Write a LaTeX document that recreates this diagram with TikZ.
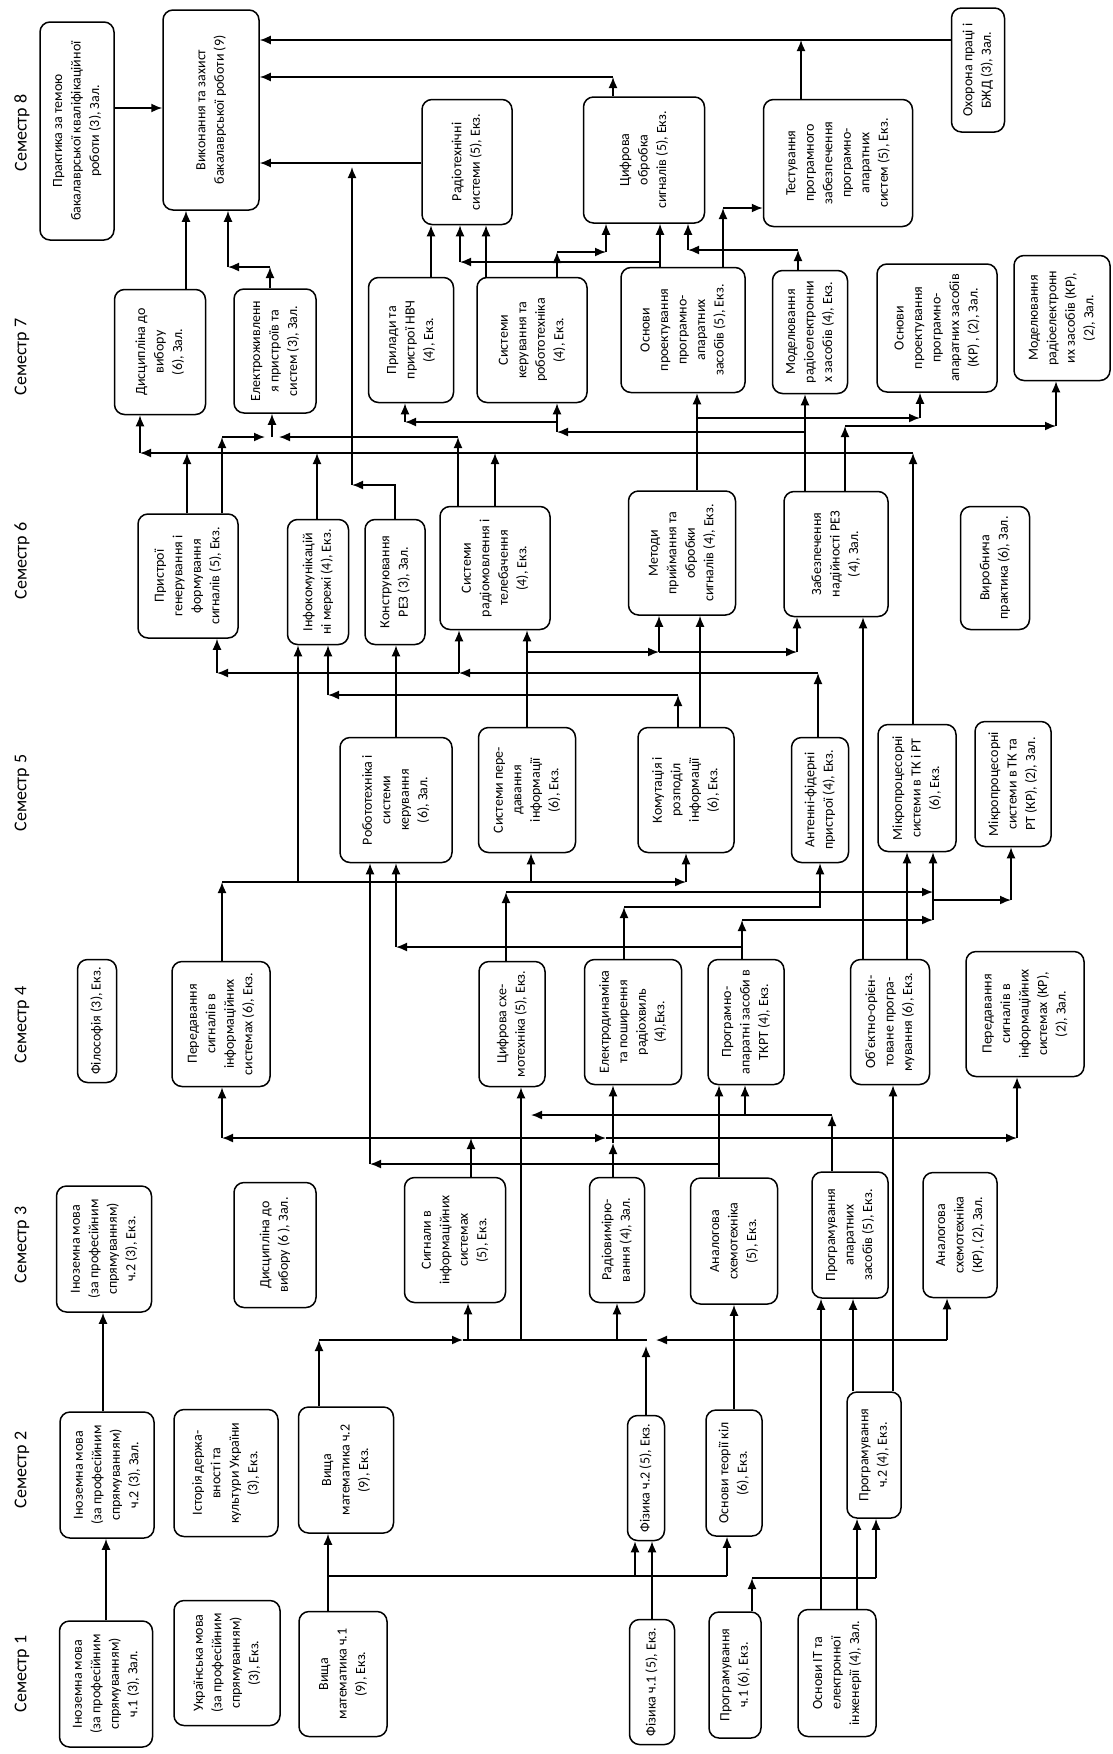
\documentclass[tikz,border=0pt]{standalone}
\usepackage{fontspec}
\setmainfont{Carlito}
\usetikzlibrary{arrows.meta}
\newcommand{\vtext}[1]{\rotatebox{90}{\begin{tabular}{@{}c@{}}#1\end{tabular}}}

\begin{document}
\begin{tikzpicture}[x=1pt,y=-1pt]

\tikzset{course/.style = {shape=rectangle,draw,rounded corners=10pt,line width=1.5pt,inner sep=0pt,font=\fontsize{14}{18.5}\selectfont}}
\tikzset{sem/.style = {rotate=90,font=\fontsize{18}{20}\selectfont}}
\tikzset{link/.style = {->,> = {Latex[length=11pt,width=9pt]},line width=1.6pt}}

\useasboundingbox[fill=white] (0,0) rectangle (1112,1754);

%semesters
\node[sem] (s8) at (22,133) {Семестр 8};
\node[sem] (s7) at (22,357) {Семестр 7};
\node[sem] (s6) at (22,561) {Семестр 6};
\node[sem] (s5) at (22,793) {Семестр 5};
\node[sem] (s4) at (22,1025) {Семестр 4};
\node[sem] (s3) at (22,1245) {Семестр 3};
\node[sem] (s2) at (22,1470) {Семестр 2};
\node[sem] (s1) at (22,1674) {Семестр 1};

%semester 8
\node[course,minimum width=74pt,minimum height=218pt] (prakt) at (77,131) {\vtext{Практика за темою\\бакалаврської кваліфікаційної\\роботи (3), Зал.}};
\node[course,minimum width=96pt,minimum height=200pt] (vykon) at (211,110) {\vtext{Виконання та захист\\бакалаврської роботи (9)}};
\node[course,minimum width=90pt,minimum height=125pt] (radsys) at (467,162) {\vtext{Радіотехнічні\\системи (5), Екз.}};
\node[course,minimum width=121pt,minimum height=126pt] (tsos) at (644,160) {\vtext{Цифрова\\обробка\\сигналів (5), Екз.}};
\node[course,minimum width=149pt,minimum height=127pt] (test) at (838,163) {\vtext{Тестування\\програмного\\забезпечення\\програмно-\\апаратних\\систем (5), Екз.}};
\node[course,minimum width=53pt,minimum height=124pt] (okhor) at (978,70) {\vtext{Охорона праці і\\БЖД (3), Зал.}};

%semester 7
\node[course,minimum width=91pt,minimum height=125pt] (dysc7) at (160,352) {\vtext{Дисципліна до\\вибору\\(6), Зал.}};
\node[course,minimum width=82pt,minimum height=124pt] (elektr) at (275,351) {\vtext{Електроживленн\\я пристроїв та\\систем (3), Зал.}};
\node[course,minimum width=85pt,minimum height=125pt] (prylady) at (411,340) {\vtext{Прилади та\\пристрої НВЧ\\(4), Екз.}};
\node[course,minimum width=110pt,minimum height=125pt] (syskeruv) at (532,340) {\vtext{Системи\\керування та\\робототехніка\\(4), Екз.}};
\node[course,minimum width=124pt,minimum height=125pt] (osnproekt) at (683,330) {\vtext{Основи\\проектування\\програмно-\\апаратних\\засобів (5), Екз.}};
\node[course,minimum width=75pt,minimum height=123pt] (modelyuv) at (810,332) {\vtext{Моделювання\\радіоелектронни\\х засобів (4), Екз.}};
\node[course,minimum width=120pt,minimum height=128pt] (osnproektKR) at (937,328) {\vtext{Основи\\проектування\\програмно-\\апаратних засобів\\(КР) , (2), Зал.}};
\node[course,minimum width=96pt,minimum height=125pt] (modelKR) at (1062,318) {\vtext{Моделювання\\радіоелектронн\\их засобів (КР),\\(2), Зал.}};

%semester 6
\node[course,minimum width=100pt,minimum height=124pt] (prystroi) at (188,576) {\vtext{Пристрої\\генерування і\\формування\\сигналів (5), Екз.}};
\node[course,minimum width=61pt,minimum height=125pt] (infokom) at (318,582) {\vtext{Інфокомунікацій\\ні мережі (4), Екз.}};
\node[course,minimum width=60pt,minimum height=125pt] (konstr) at (395,582) {\vtext{Конструювання\\РЕЗ (3), Зал.}};
\node[course,minimum width=110pt,minimum height=123pt] (radiomov) at (495,568) {\vtext{Системи\\радіомовлення і\\телебачення\\(4), Екз.}};
\node[course,minimum width=107pt,minimum height=124pt] (metody) at (682,553) {\vtext{Методи\\приймання та\\обробки\\сигналів (4), Екз.}};
\node[course,minimum width=104pt,minimum height=125pt] (zabezp) at (836,554) {\vtext{Забезпечення\\надійності РЕЗ\\(4), Зал.}};
\node[course,minimum width=69pt,minimum height=123pt] (vyrob) at (995,568) {\vtext{Виробнича\\практика (6), Зал.}};

%semester 5
\node[course,minimum width=112pt,minimum height=125pt] (robot) at (396,800) {\vtext{Робототехніка і\\системи\\керування\\(6), Зал.}};
\node[course,minimum width=97pt,minimum height=125pt] (sysperedav) at (527,790) {\vtext{Системи пере-\\давання\\інформації\\(6), Екз.}};
\node[course,minimum width=96pt,minimum height=125pt] (komut) at (686,790) {\vtext{Комутація і\\розподіл\\інформації\\(6), Екз.}};
\node[course,minimum width=57pt,minimum height=125pt] (antenni) at (820,800) {\vtext{Антенні-фідерні\\пристрої (4), Екз.}};
\node[course,minimum width=78pt,minimum height=127pt] (mikro) at (917,788) {\vtext{Мікропроцесорні\\системи в ТК і РТ\\(6), Екз.}};
\node[course,minimum width=76pt,minimum height=125pt] (mikroKR) at (1013,784) {\vtext{Мікропроцесорні\\системи в ТК та\\РТ (КР), (2), Зал.}};

%semester 4
\node[course,minimum width=39pt,minimum height=123pt] (filos) at (97,1021) {\vtext{Філософія (3), Екз.}};
\node[course,minimum width=98pt,minimum height=125pt] (peredav6) at (221,1024) {\vtext{Передавання\\сигналів в\\інформаційних\\системах (6), Екз.}};
\node[course,minimum width=66pt,minimum height=125pt] (tsyfrskh) at (512,1024) {\vtext{Цифрова схе-\\мотехніка (5), Екз.}};
\node[course,minimum width=97pt,minimum height=125pt] (elektrodyn) at (633,1022) {\vtext{Електродинаміка\\та поширення\\радіохвиль\\(4),Екз.}};
\node[course,minimum width=76pt,minimum height=125pt] (prohrapar) at (746,1022) {\vtext{Програмно-\\апаратні засоби в\\ТКРТ (4), Екз.}};
\node[course,minimum width=79pt,minimum height=125pt] (obyekt) at (890,1022) {\vtext{Об'єктно-орієн-\\товане програ-\\мування (6), Екз.}};
\node[course,minimum width=118pt,minimum height=125pt] (peredavKR) at (1025,1014) {\vtext{Передавання\\сигналів в\\інформаційних\\системах (КР),\\(2), Зал.}};

%semester 3
\node[course,minimum width=95pt,minimum height=126pt] (inoz3) at (104,1249) {\vtext{Іноземна мова\\(за професійним\\спрямуванням)\\ч.2 (3), Екз.}};
\node[course,minimum width=82pt,minimum height=125pt] (dysc3) at (275,1245) {\vtext{Дисципліна до\\вибору (6 ), Зал.}};
\node[course,minimum width=101pt,minimum height=125pt] (syhnaly) at (455,1240) {\vtext{Сигнали в\\інформаційних\\системах\\(5), Екз.}};
\node[course,minimum width=55pt,minimum height=125pt] (radiovym) at (617,1240) {\vtext{Радіовимірю-\\вання (4), Зал.}};
\node[course,minimum width=87pt,minimum height=126pt] (analog) at (734,1241) {\vtext{Аналогова\\схемотехніка\\(5), Екз.}};
\node[course,minimum width=76pt,minimum height=126pt] (prohramapar) at (850,1235) {\vtext{Програмування\\апаратних\\засобів (5), Екз.}};
\node[course,minimum width=74pt,minimum height=125pt] (analogKR) at (960,1235) {\vtext{Аналогова\\схемотехніка\\(КР), (2), Зал.}};

%semester 2
\node[course,minimum width=94pt,minimum height=126pt] (inoz2) at (107,1475) {\vtext{Іноземна мова\\(за професійним\\спрямуванням)\\ч.2 (3), Зал.}};
\node[course,minimum width=104pt,minimum height=127pt] (istoriya) at (226,1473) {\vtext{Історія держа-\\вності та\\культури України\\(3), Екз.}};
\node[course,minimum width=95pt,minimum height=126pt] (vyshmat2) at (346,1470) {\vtext{Вища\\математика ч.2\\(9), Екз.}};
\node[course,minimum width=37pt,minimum height=125pt] (fizyka2) at (646,1478) {\vtext{Фізика ч.2 (5), Екз.}};
\node[course,minimum width=56pt,minimum height=126pt] (osnteor) at (734,1473) {\vtext{Основи теорії кіл\\(6), Екз.}};
\node[course,minimum width=54pt,minimum height=126pt] (prohram2) at (874,1455) {\vtext{Програмування\\ч.2 (4), Екз.}};

%semester 1
\node[course,minimum width=93pt,minimum height=126pt] (inoz1) at (106,1684) {\vtext{Іноземна мова\\(за професійним\\спрямуванням)\\ч.1 (3), Зал.}};
\node[course,minimum width=106pt,minimum height=125pt] (ukr) at (227,1663) {\vtext{Українська мова\\(за професійним\\спрямуванням)\\(3), Екз.}};
\node[course,minimum width=88pt,minimum height=125pt] (vyshmat1) at (343,1674) {\vtext{Вища\\математика ч.1\\(9), Екз.}};
\node[course,minimum width=45pt,minimum height=125pt] (fizyka1) at (652,1682) {\vtext{Фізика ч.1 (5), Екз.}};
\node[course,minimum width=52pt,minimum height=126pt] (prohram1) at (735,1675) {\vtext{Програмування\\ч.1 (6), Екз.}};
\node[course,minimum width=78pt,minimum height=127pt] (osnIT) at (837,1673) {\vtext{Основи ІТ та\\електронної\\інженерії (4), Зал.}};

%junctions
\coordinate (j1) at (801,40);
\coordinate (j2) at (613,77);
\coordinate (j3) at (352,485);
\coordinate (j4) at (352,167);
\coordinate (j5) at (270,267);
\coordinate (j6) at (228,267);
\coordinate (j7) at (660,262);
\coordinate (j8) at (460,262);
\coordinate (j9) at (557,252);
\coordinate (j10) at (606,252);
\coordinate (j11) at (798,250);
\coordinate (j12) at (688,250);
\coordinate (j13) at (723,208);
\coordinate (j14) at (913,453);
\coordinate (j15) at (140,453);
\coordinate (j16) at (222,437);
\coordinate (j17) at (458,437);
\coordinate (j18) at (272,437);
\coordinate (j19) at (697,418);
\coordinate (j20) at (920,418);
\coordinate (j21) at (805,432);
\coordinate (j22) at (557,432);
\coordinate (j23) at (557,422);
\coordinate (j24) at (405,422);
\coordinate (j25) at (845,426);
\coordinate (j26) at (1056,426);
\coordinate (j27) at (527,652);
\coordinate (j28) at (659,652);
\coordinate (j29) at (797,652);
\coordinate (j30) at (818,673);
\coordinate (j31) at (459,673);
\coordinate (j32) at (217,673);
\coordinate (j33) at (678,695);
\coordinate (j34) at (328,695);
\coordinate (j35) at (222,882);
\coordinate (j36) at (686,882);
\coordinate (j37) at (719,1164);
\coordinate (j38) at (370,1164);
\coordinate (j39) at (742,947);
\coordinate (j40) at (396,947);
\coordinate (j41) at (742,920);
\coordinate (j42) at (933,920);
\coordinate (j43) at (933,900);
\coordinate (j44) at (1011,900);
\coordinate (j45) at (506,892);
\coordinate (j46) at (624,907);
\coordinate (j47) at (820,907);
\coordinate (j48) at (471,1138);
\coordinate (j49) at (222,1138);
\coordinate (j50) at (1017,1138);
\coordinate (j51) at (613,1143);
\coordinate (j52) at (832,1115);
\coordinate (j53) at (531,1115);
\coordinate (j54) at (319,1340);
\coordinate (j55) at (463,1340);
\coordinate (j56) at (947,1340);
\coordinate (j57) at (656,1340);
\coordinate (j58) at (328,1576);
\coordinate (j59) at (635,1576);
\coordinate (j60) at (727,1576);
\coordinate (j61) at (752,1578);
\coordinate (j62) at (876,1578);

%edges 8
\draw[link] (prakt.east |- 0,108) to (vykon.west |- 0,108);
\draw[link] (okhor.west |- j1) to (vykon.east |- j1);
\draw[link] (test.north -| j1) to (j1);
\draw[link] (tsos.north -| j2) to (j2);
\draw[link] (j2) to (vykon.east |- j2);
\draw[link] (radsys.west |- 0,163) to (vykon.east |- 0,163);
\draw[link] (konstr.north -| 395,0) -- (395,485) -- (j3);
\draw[link] (j3) to (j4);

%edges 7
\draw[link] (dysc7.north -| 186,0) to (vykon.south -| 186,0);
\draw[link] (elektr.north -| j5) to (j5);
\draw[link] (j5) to (j6);
\draw[link] (j6) to (vykon.south -| j6);
\draw[link] (prylady.north -| 431,0) to (radsys.south -| 431,0);
\draw[link] (syskeruv.north -| 486,0) to (radsys.south -| 486,0);
\draw[link] (osnproekt.north -| j7) to (tsos.south -| j7);
\draw[link] (j7) to (j8);
\draw[link] (j8) to (radsys.south -| j8);
\draw[link] (syskeruv.north -| j9) to (j9);
\draw[link] (j9) to (j10);
\draw[link] (j10) to (tsos.south -| j10);
\draw[link] (modelyuv.north -| j11) to (j11);
\draw[link] (j11) to (j12);
\draw[link] (j12) to (tsos.south -| j12);
\draw[link] (osnproekt.north -| j13) to (j13);
\draw[link] (j13) to (test.west |- j13);

%edges 6
\draw[link] (mikro.north -| j14) to (j14);
\draw[link] (j14) to (j15);
\draw[link] (j15) to (dysc7.south -| j15);
\draw[link] (prystroi.north -| 187,0) to (187,453);
\draw[link] (infokom.north -| 317,0) to (317,453);
\draw[link] (radiomov.north -| 495,0) to (495,453);
\draw[link] (prystroi.north -| j16) to (j16);
\draw[link] (j16) to (265,437);
\draw[link] (radiomov.north -| j17) to (j17);
\draw[link] (j17) to (279,437);
\draw[link] (j18) to (elektr.south -| j18);
\draw[link] (metody.north -| j19) to (osnproekt.south -| j19);
\draw[link] (j19) to (j20);
\draw[link] (j20) to (osnproektKR.south -| j20);
\draw[link] (zabezp.north -| j21) to (modelyuv.south -| j21);
\draw[link] (j21) to (j22);
\draw[link] (j22) to (syskeruv.south -| j22);
\draw[link] (j23) to (j24);
\draw[link] (j24) to (prylady.south -| j24);
\draw[link] (zabezp.north -| j25) to (j25);
\draw[link] (j25) to (j26);
\draw[link] (j26) to (modelKR.south -| j26);

%edges 5
\draw[link] (sysperedav.north -| j27) to (radiomov.south -| j27);
\draw[link] (j27) to (j28);
\draw[link] (j28) to (metody.south -| j28);
\draw[link] (j28) to (j29);
\draw[link] (j29) to (zabezp.south -| j29);
\draw[link] (antenni.north -| j30) to (j30);
\draw[link] (j30) to (j31);
\draw[link] (j31) to (radiomov.south -| j31);
\draw[link] (j31) to (j32);
\draw[link] (j32) to (prystroi.south -| j32);
\draw[link] (komut.north -| j33) to (j33);
\draw[link] (j33) to (j34);
\draw[link] (j34) to (infokom.south -| j34);
\draw[link] (komut.north -| 700,0) to (metody.south -| 700,0);
\draw[link] (robot.north -| 396,0) to (konstr.south -| 396,0);
\draw[link] (obyekt.north -| 863,0) to (zabezp.south -| 863,0);

%edges 4
\draw[link] (peredav6.north -| j35) to (j35);
\draw[link] (j35) to (j36);
\draw[link] (j36) to (komut.south -| j36);
\draw[link] (298,882) to (infokom.south -| 298,0);
\draw[link] (531,882) to (sysperedav.south -| 531,0);
\draw[link] (analog.north -| j37) to (prohrapar.south -| j37);
\draw[link] (j37) to (j38);
\draw[link] (j38) to (robot.south -| j38);
\draw[link] (prohrapar.north -| j39) -- (j39) -- (j40);
\draw[link] (j40) to (robot.south -| j40);
\draw[link] (j39) to (j41);
\draw[link] (j41) to (j42);
\draw[link] (j42) to (mikro.south -| j42);
\draw[link] (j43) to (j44);
\draw[link] (j44) to (mikroKR.south -| j44);
\draw[link] (tsyfrskh.north -| j45) to (j45);
\draw[link] (j45) to (933,892);
\draw[link] (elektrodyn.north -| j46) to (j46);
\draw[link] (j46) -- (j47) -- (antenni.south -| j47);
\draw[link] (obyekt.north -| 907,0) to (mikro.south -| 907,0);

%edges 3
\draw[link] (syhnaly.north -| j48) to (j48);
\draw[link] (j48) to (j49);
\draw[link] (j49) to (peredav6.south -| j49);
\draw[link] (j48) to (606,1138);
\draw[link] (606,1138) to (j50);
\draw[link] (j50) to (peredavKR.south -| j50);
\draw[link] (radiovym.north -| j51) to (j51);
\draw[link] (j51) to (elektrodyn.south -| j51);
\draw[link] (prohramapar.north -| j52) to (j52);
\draw[link] (j52) to (j53);
\draw[link] (745,1115) to (prohrapar.south -| 745,0);
\draw[link] (prohram2.north -| 893,0) to (obyekt.south -| 893,0);

%edges 2
\draw[link] (inoz2.north -| 103,0) to (inoz3.south -| 103,0);
\draw[link] (vyshmat2.north -| j54) to (j54);
\draw[link] (j54) to (j55);
\draw[line width=1.6pt] (j55) -- (647,1340);
\draw[link] (j56) to (j57);
\draw[link] (468,1340) to (syhnaly.south -| 468,0);
\draw[link] (521,1340) to (tsyfrskh.south -| 521,0);
\draw[link] (617,1340) to (radiovym.south -| 617,0);
\draw[link] (j56) to (analogKR.south -| j56);
\draw[link] (fizyka2.north -| 646,0) to (646,1346);
\draw[link] (osnteor.north -| 734,0) to (analog.south -| 734,0);
\draw[link] (osnIT.north -| 821,0) to (prohramapar.south -| 821,0);
\draw[link] (prohram2.north -| 853,0) to (prohramapar.south -| 853,0);

%edges 1
\draw[link] (inoz1.north -| 106,0) to (inoz2.south -| 106,0);
\draw[link] (vyshmat1.north -| j58) to (vyshmat2.south -| j58);
\draw[line width=1.6pt] (j58) -- (j60);
\draw[link] (j59) to (fizyka2.south -| j59);
\draw[link] (j60) to (osnteor.south -| j60);
\draw[link] (fizyka1.north -| 652,0) to (fizyka2.south -| 652,0);
\draw[link] (prohram1.north -| j61) to (j61);
\draw[line width=1.6pt] (j61) -- (j62);
\draw[link] (j62) to (prohram2.south -| j62);
\draw[link] (osnIT.north -| 857,0) to (prohram2.south -| 857,0);
\end{tikzpicture}
\end{document}
